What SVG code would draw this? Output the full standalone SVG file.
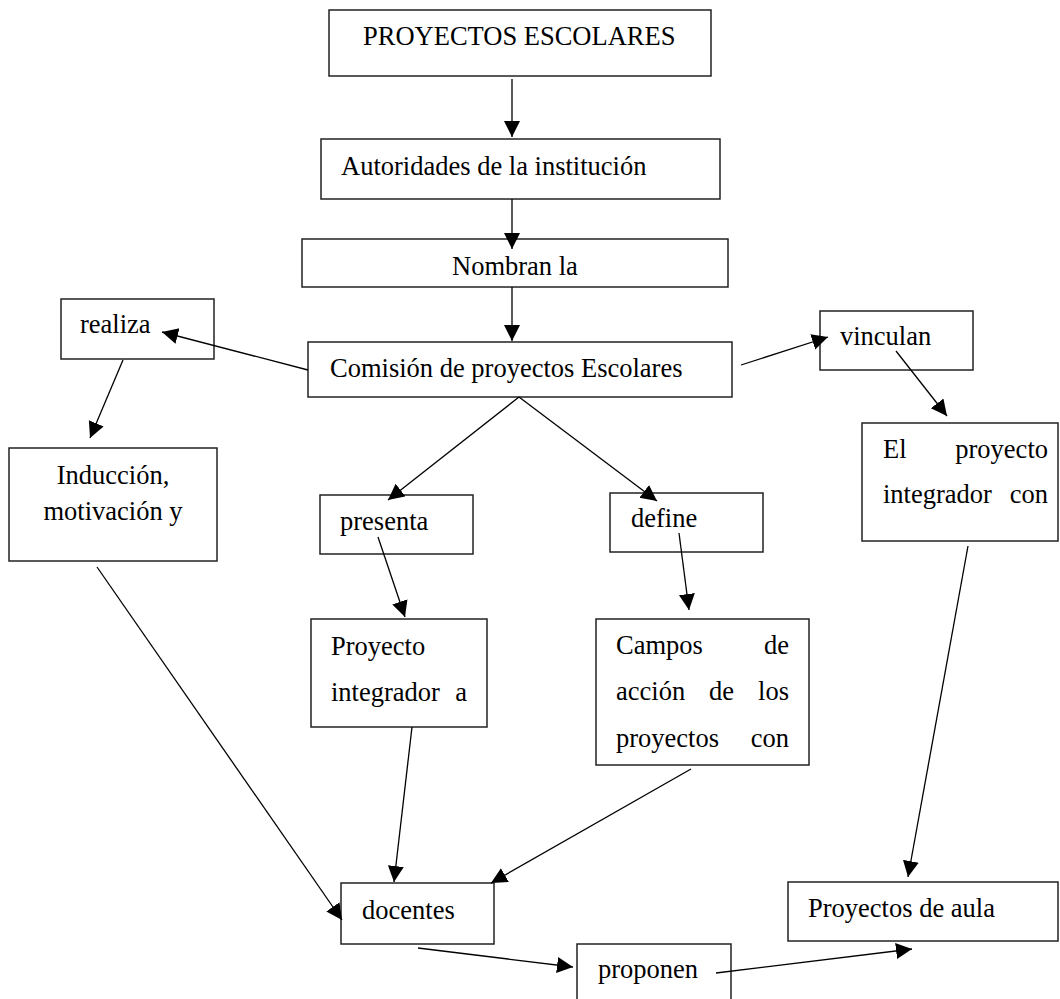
<svg xmlns="http://www.w3.org/2000/svg" width="1060" height="999" viewBox="0 0 1060 999">
<defs>
<style>
.box{fill:#fff;stroke:#222;stroke-width:1.5}
.t{font-family:"Liberation Serif","Times New Roman",serif;font-size:26.5px;fill:#000}
.e{text-anchor:end}
.c{text-anchor:middle}
.ln{stroke:#000;stroke-width:1.3;fill:none;marker-end:url(#ah)}
</style>
<marker id="ah" markerUnits="userSpaceOnUse" markerWidth="18" markerHeight="18" refX="16" refY="8" orient="auto">
<path d="M0,0 L16,8 L0,16 z" fill="#000"/>
</marker>
</defs>
<rect width="1060" height="999" fill="#fff"/>
<g id="n1"><rect class="box" x="329" y="10" width="382" height="66"/><text class="t" x="363" y="45">PROYECTOS ESCOLARES</text></g>
<g id="n2"><rect class="box" x="321" y="139" width="399" height="60"/><text class="t" x="341" y="175">Autoridades de la institución</text></g>
<g id="n3"><rect class="box" x="302" y="239" width="426" height="48"/><text class="t" x="452" y="275">Nombran la</text></g>
<g id="n4"><rect class="box" x="61" y="299" width="153" height="60"/><text class="t" x="80" y="333">realiza</text></g>
<g id="n5"><rect class="box" x="308" y="342" width="424" height="55"/><text class="t" x="330" y="377">Comisión de proyectos Escolares</text></g>
<g id="n6"><rect class="box" x="820" y="311" width="153" height="59"/><text class="t" x="840" y="345">vinculan</text></g>
<g id="n7"><rect class="box" x="9" y="448" width="208" height="113"/><text class="t c" x="113" y="484">Inducción,</text><text class="t c" x="113" y="520">motivación y</text></g>
<g id="n8"><rect class="box" x="862" y="423" width="196" height="118"/><text class="t" x="883" y="458">El</text><text class="t e" x="1048" y="458">proyecto</text><text class="t" x="883" y="503">integrador</text><text class="t e" x="1048" y="503">con</text></g>
<g id="n9"><rect class="box" x="320" y="495" width="153" height="59"/><text class="t" x="340" y="530">presenta</text></g>
<g id="n10"><rect class="box" x="610" y="493" width="153" height="59"/><text class="t" x="631" y="527">define</text></g>
<g id="n11"><rect class="box" x="311" y="619" width="176" height="108"/><text class="t" x="331" y="655">Proyecto</text><text class="t" x="331" y="701">integrador</text><text class="t e" x="467" y="701">a</text></g>
<g id="n12"><rect class="box" x="596" y="619" width="213" height="146"/><text class="t" x="616" y="654">Campos</text><text class="t e" x="789" y="654">de</text><text class="t" x="616" y="700">acción</text><text class="t" x="709" y="700">de</text><text class="t e" x="789" y="700">los</text><text class="t" x="616" y="747">proyectos</text><text class="t e" x="789" y="747">con</text></g>
<g id="n13"><rect class="box" x="341" y="883" width="153" height="61"/><text class="t" x="362" y="919">docentes</text></g>
<g id="n14"><rect class="box" x="788" y="882" width="270" height="59"/><text class="t" x="808" y="917">Proyectos de aula</text></g>
<g id="n15"><rect class="box" x="577" y="944" width="154" height="70"/><text class="t" x="598" y="978">proponen</text></g>
<g id="connectors">
<line class="ln" x1="512" y1="79" x2="512" y2="137"/>
<line class="ln" x1="512" y1="199" x2="512" y2="249"/>
<line class="ln" x1="512" y1="287" x2="512" y2="341"/>
<line class="ln" x1="308" y1="370" x2="162" y2="332"/>
<line class="ln" x1="123" y1="360" x2="90" y2="438"/>
<line class="ln" x1="741" y1="365" x2="828" y2="337"/>
<line class="ln" x1="896" y1="351" x2="947" y2="416"/>
<line class="ln" x1="519" y1="397" x2="388" y2="500"/>
<line class="ln" x1="519" y1="397" x2="657" y2="501"/>
<line class="ln" x1="378" y1="537" x2="405" y2="617"/>
<line class="ln" x1="679" y1="533" x2="689" y2="610"/>
<line class="ln" x1="97" y1="567" x2="342" y2="920"/>
<line class="ln" x1="412" y1="727" x2="394" y2="882"/>
<line class="ln" x1="691" y1="769" x2="491" y2="883"/>
<line class="ln" x1="968" y1="546" x2="908" y2="877"/>
<line class="ln" x1="418" y1="948" x2="573" y2="967"/>
<line class="ln" x1="716" y1="973" x2="912" y2="949"/>
</g>
</svg>
